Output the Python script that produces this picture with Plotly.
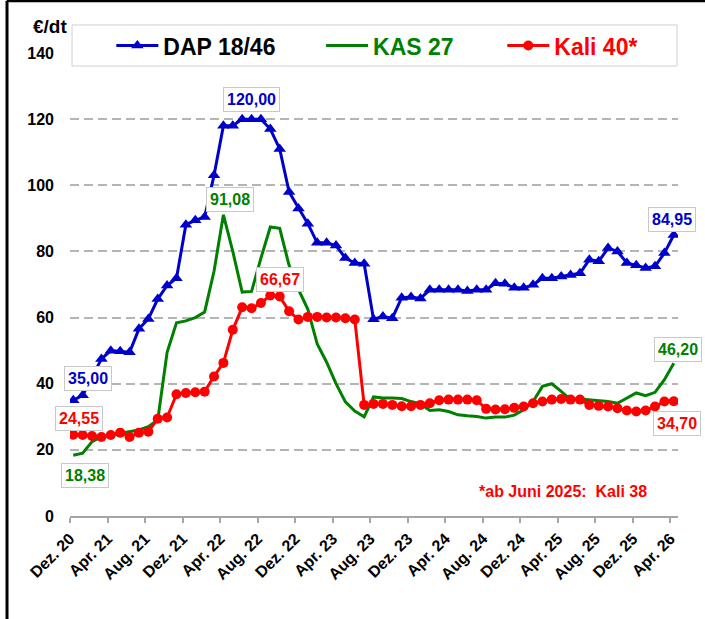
import plotly.graph_objects as go

# ---- data (monthly, Dez. 20 ... Apr. 26) ----
DAP = [35.0, 36.5, 42.0, 47.5, 50.0, 49.8, 49.5, 56.6, 59.6, 65.6,
       69.7, 71.9, 88.1, 89.4, 90.4, 103.0, 118.0, 118.0, 120.0, 120.0,
       120.0, 117.0, 111.0, 98.0, 93.0, 88.4, 82.6, 82.6, 81.8, 78.0,
       76.5, 76.3, 59.5, 60.3, 59.8, 66.0, 66.2, 65.8, 68.4, 68.4,
       68.4, 68.4, 68.0, 68.4, 68.4, 70.4, 70.2, 69.0, 69.0, 69.9,
       71.9, 71.9, 72.4, 72.9, 73.4, 77.5, 77.0, 81.0, 80.0, 76.5,
       75.8, 75.0, 75.5, 79.5, 84.95]
KAS = [18.38, 19.0, 22.5, 24.0, 24.5, 25.0, 25.5, 26.0, 27.0, 29.0,
       49.5, 58.4, 59.0, 60.0, 61.7, 74.0, 91.08, 80.0, 67.7, 67.9,
       78.0, 87.4, 87.0, 75.8, 68.5, 62.5, 52.0, 46.5, 40.0, 34.5,
       31.7, 30.0, 36.0, 35.7, 35.7, 35.5, 34.6, 33.9, 31.9, 32.1,
       31.6, 30.6, 30.3, 30.1, 29.6, 29.9, 29.9, 30.5, 32.1, 34.6,
       39.2, 40.0, 37.7, 35.2, 35.4, 35.2, 35.0, 34.6, 34.1, 35.6,
       37.2, 36.4, 37.4, 41.2, 46.2]
KALI = [24.55, 24.5, 24.2, 23.9, 24.5, 25.2, 23.9, 25.2, 25.5, 29.4,
        29.8, 36.8, 37.2, 37.4, 37.6, 42.2, 46.3, 56.3, 63.1, 62.8,
        64.4, 66.67, 66.4, 61.9, 59.4, 60.2, 60.2, 60.0, 60.0, 59.8,
        59.4, 33.6, 33.9, 33.9, 33.6, 33.2, 33.2, 33.6, 34.1, 35.0,
        35.2, 35.2, 35.2, 35.0, 32.4, 32.2, 32.3, 32.7, 33.1, 34.1,
        34.6, 35.2, 35.4, 35.2, 35.2, 33.6, 33.3, 33.1, 32.6, 31.9,
        31.6, 31.9, 33.1, 34.6, 34.70]
TICK_LABELS = ["Dez. 20", "Apr. 21", "Aug. 21", "Dez. 21", "Apr. 22", "Aug. 22",
               "Dez. 22", "Apr. 23", "Aug. 23", "Dez. 23", "Apr. 24", "Aug. 24",
               "Dez. 24", "Apr. 25", "Aug. 25", "Dez. 25", "Apr. 26"]
NAMES = ["DAP 18/46", "KAS 27", "Kali 40*"]
Y_TICKS = [0, 20, 40, 60, 80, 100, 120, 140]

x = list(range(len(DAP)))
FONT = "Liberation Sans, Arial, sans-serif"
BLUE, GREEN, RED = "#0000CC", "#008000", "#FF0000"

fig = go.Figure()
fig.add_trace(go.Scatter(x=x, y=KAS, name="<b>%s</b>" % NAMES[1], mode="lines",
                         line=dict(color=GREEN, width=3), legend="legend2"))
fig.add_trace(go.Scatter(x=x, y=KALI, name="<b>%s</b>" % NAMES[2], mode="lines+markers",
                         line=dict(color=RED, width=3),
                         marker=dict(symbol="circle", size=10, color=RED),
                         legend="legend3"))
fig.add_trace(go.Scatter(x=x, y=DAP, name="<b>%s</b>" % NAMES[0], mode="lines+markers",
                         line=dict(color=BLUE, width=3),
                         marker=dict(symbol="triangle-up", size=11, color=BLUE),
                         legend="legend", showlegend=True))

def lab(i, series, color, xs, ys):
    fig.add_annotation(x=i, y=series[i], text="<b>%s</b>" % f"{series[i]:.2f}".replace(".", ","),
                       showarrow=False, xshift=xs, yshift=ys, xanchor="center", yanchor="middle",
                       font=dict(family=FONT, size=16, color=color),
                       bgcolor="white", bordercolor="#c8c8c8", borderwidth=1, borderpad=3)

lab(19, DAP, BLUE, 0, 20)
lab(16, KAS, GREEN, 7, 15)
lab(21, KALI, RED, 10, 16)
lab(0, DAP, BLUE, 15, 22)
lab(0, KALI, RED, 6, 16)
lab(0, KAS, GREEN, 12, -20)
lab(64, DAP, BLUE, -2, 16)
lab(64, KAS, GREEN, 4, 14)
lab(64, KALI, RED, 3, -22)

fig.add_annotation(xref="paper", yref="paper", x=0.811, y=0.052,
                   xanchor="center", yanchor="middle",
                   text="<b>*ab Juni 2025:  Kali 38</b>", showarrow=False,
                   font=dict(family=FONT, size=16, color=RED))
fig.add_annotation(xref="paper", yref="paper", x=-0.033, y=1.058,
                   xanchor="center", yanchor="middle",
                   text="<b>€/dt</b>", showarrow=False,
                   font=dict(family=FONT, size=19, color="black"))

# legend box
fig.add_shape(type="rect", xref="paper", yref="paper",
              x0=(72 - 70) / 608, x1=(677 - 70) / 608,
              y0=(516 - 67) / 462, y1=(516 - 26) / 462,
              fillcolor="white", line=dict(color="#d0d0d0", width=1), layer="above")
# outer frame (top and left)
fig.add_shape(type="line", xref="paper", yref="paper",
              x0=-0.1036, x1=1.06, y0=1.1126, y1=1.1126,
              line=dict(color="black", width=3))
fig.add_shape(type="line", xref="paper", yref="paper",
              x0=-0.1036, x1=-0.1036, y0=1.1126, y1=-0.25,
              line=dict(color="black", width=3))

legend_common = dict(orientation="h", yanchor="middle", y=1.016, xanchor="left",
                     bgcolor="rgba(0,0,0,0)", borderwidth=0, itemwidth=42)
fig.update_layout(
    width=705, height=619,
    margin=dict(l=70, r=27, t=53, b=103),
    paper_bgcolor="white", plot_bgcolor="white",
    font=dict(family=FONT),
    showlegend=True,
    legend=dict(x=0.068, font=dict(family=FONT, size=23, color="black"), **legend_common),
    legend2=dict(x=0.413, font=dict(family=FONT, size=23, color=GREEN), **legend_common),
    legend3=dict(x=0.711, font=dict(family=FONT, size=23, color=RED), **legend_common),
    xaxis=dict(range=[-0.35, 64.45], tickmode="array",
               tickvals=[4 * k - 0.35 for k in range(len(TICK_LABELS))],
               ticktext=["<b>%s</b>" % t for t in TICK_LABELS],
               tickangle=-45, showgrid=False, zeroline=False,
               showline=True, linecolor="#a6a6a6", linewidth=2,
               ticks="outside", ticklen=5, tickcolor="#a6a6a6", tickwidth=1.5,
               tickfont=dict(family=FONT, size=16, color="black")),
    yaxis=dict(range=[0, 140], tickmode="array", tickvals=Y_TICKS,
               ticktext=["<b>%d</b>" % v for v in Y_TICKS],
               showgrid=True, gridcolor="#b4b4b4", gridwidth=2, griddash="9px,5px",
               zeroline=False, showline=False, ticks="", ticklabelstandoff=15,
               tickfont=dict(family=FONT, size=16, color="black")),
)

fig.write_html("out.html", config={"displayModeBar": False},
               post_script="document.body.style.margin='0';")
